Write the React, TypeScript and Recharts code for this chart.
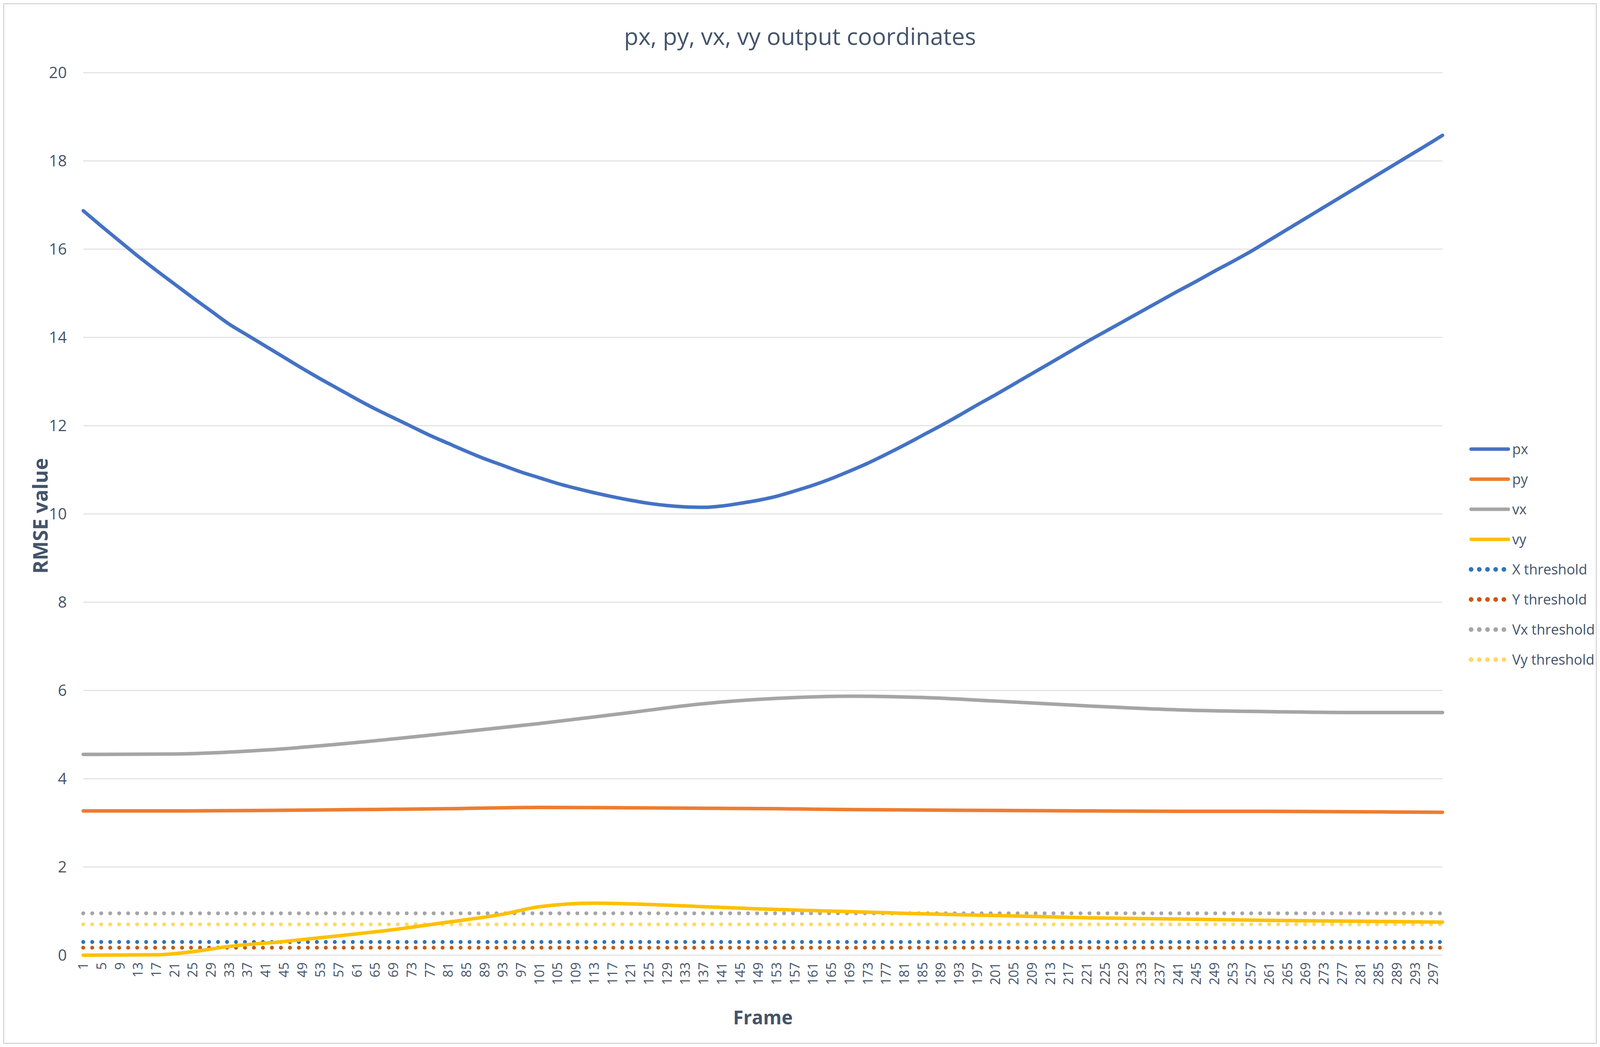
import React from "react";
import { LineChart, Line, XAxis, YAxis, CartesianGrid, Label } from "recharts";

const TEXT = "#44546a";
const FONT = "'Open Sans', sans-serif";

// px sampled every 4 frames (plus the last frame)
const pxFrames = [
  1, 5, 9, 13, 17, 21, 25, 29, 33, 37, 41, 45, 49, 53, 57, 61, 65, 69, 73, 77, 81, 85, 89, 93, 97, 101, 105, 109, 113,
  117, 121, 125, 129, 133, 137, 141, 145, 149, 153, 157, 161, 165, 169, 173, 177, 181, 185, 189, 193, 197, 201, 205,
  209, 213, 217, 221, 225, 229, 233, 237, 241, 245, 249, 253, 257, 261, 265, 269, 273, 277, 281, 285, 289, 293, 297,
  299,
];
const pxValues = [
  16.87, 16.52, 16.18, 15.84, 15.52, 15.21, 14.9, 14.6, 14.3, 14.05, 13.8, 13.55, 13.3, 13.06, 12.83, 12.6, 12.38,
  12.18, 11.98, 11.78, 11.6, 11.42, 11.25, 11.1, 10.95, 10.82, 10.69, 10.58, 10.48, 10.39, 10.31, 10.24, 10.19, 10.16,
  10.15, 10.18, 10.24, 10.31, 10.4, 10.52, 10.65, 10.8, 10.97, 11.15, 11.35, 11.56, 11.78, 12.0, 12.23, 12.47, 12.7,
  12.94, 13.18, 13.42, 13.66, 13.9, 14.13, 14.36, 14.59, 14.82, 15.05, 15.27, 15.5, 15.72, 15.95, 16.2, 16.45, 16.7,
  16.95, 17.2, 17.45, 17.7, 17.95, 18.2, 18.45, 18.58,
];

const curveFrames = [1, 21, 41, 61, 81, 101, 121, 137, 153, 169, 185, 201, 221, 241, 261, 281, 299];
const vxValues = [4.55, 4.56, 4.65, 4.82, 5.03, 5.25, 5.5, 5.7, 5.82, 5.87, 5.84, 5.76, 5.65, 5.56, 5.52, 5.5, 5.5];
const pyValues = [3.27, 3.27, 3.28, 3.3, 3.32, 3.35, 3.34, 3.33, 3.32, 3.3, 3.29, 3.28, 3.27, 3.26, 3.26, 3.25, 3.24];

const vyFrames = [1, 17, 25, 33, 45, 57, 69, 81, 93, 101, 113, 125, 137, 149, 165, 181, 201, 221, 241, 261, 281, 299];
const vyValues = [
  0.0, 0.01, 0.08, 0.2, 0.31, 0.44, 0.58, 0.75, 0.93, 1.1, 1.18, 1.15, 1.1, 1.05, 1.0, 0.95, 0.9, 0.85, 0.82, 0.79,
  0.77, 0.75,
];

const thresholdNames = ["X threshold", "Y threshold", "Vx threshold", "Vy threshold"];
const thresholdValues = [0.3, 0.17, 0.95, 0.7];
const thresholdColors = ["#2e75b6", "#c55a11", "#a5a5a5", "#ffd966"];

const yTicks = [0, 2, 4, 6, 8, 10, 12, 14, 16, 18, 20];
const xTicks = Array.from({ length: 75 }, (_, i) => 1 + i * 4);

const toPoints = (frames: number[], values: number[]) => frames.map((f, i) => ({ frame: f, v: values[i] }));

const series = [
  { name: "px", color: "#4472c4", data: toPoints(pxFrames, pxValues) },
  { name: "py", color: "#ed7d31", data: toPoints(curveFrames, pyValues) },
  { name: "vx", color: "#a5a5a5", data: toPoints(curveFrames, vxValues) },
  { name: "vy", color: "#ffc000", data: toPoints(vyFrames, vyValues) },
];

const thresholds = thresholdNames.map((name, i) => ({
  name,
  color: thresholdColors[i],
  data: [
    { frame: 1, v: thresholdValues[i] },
    { frame: 299, v: thresholdValues[i] },
  ],
}));

const XTick = (props: any) => {
  const { x, y, payload } = props;
  return (
    <text
      x={x}
      y={y}
      transform={`rotate(-90 ${x} ${y})`}
      dy={12}
      dx={-10}
      textAnchor="end"
      fill={TEXT}
      fontSize={34}
      fontFamily={FONT}
    >
      {payload.value}
    </text>
  );
};

const App = () => {
  const vw = typeof window !== "undefined" && window.innerWidth ? window.innerWidth : 4780;
  const W = Math.max(1000, vw - 16);
  const H = 2665;
  const sx = W / 4764;
  const legendItems = [...series.map((s) => ({ ...s, dotted: false })), ...thresholds.map((t) => ({ ...t, dotted: true }))];
  return (
    <div style={{ position: "relative", width: W, height: H, border: "3px solid #d9d9d9", boxSizing: "border-box", fontFamily: FONT }}>
      <div style={{ position: "absolute", top: 40, width: "100%", textAlign: "center", fontSize: 60, color: TEXT }}>
        px, py, vx, vy output coordinates
      </div>
      <div
        style={{
          position: "absolute",
          left: 105 * sx,
          top: 1310,
          transform: "translate(-50%, -50%) rotate(-90deg)",
          fontSize: 52,
          fontWeight: 700,
          color: TEXT,
          whiteSpace: "nowrap",
        }}
      >
        RMSE value
      </div>
      <LineChart width={W} height={H} margin={{ top: 175, right: 465 * sx, bottom: 45, left: 236 * sx - 130 }}>
        <CartesianGrid vertical={false} stroke="#e3e3e3" strokeWidth={3} />
        <XAxis
          dataKey="frame"
          type="number"
          domain={[1, 299]}
          ticks={xTicks}
          interval={0}
          tick={<XTick />}
          tickLine={false}
          axisLine={false}
          height={185}
          allowDuplicatedCategory={false}
        >
          <Label value="Frame" position="insideBottom" offset={8} fill={TEXT} fontSize={48} fontWeight={700} fontFamily={FONT} />
        </XAxis>
        <YAxis
          domain={[0, 20]}
          ticks={yTicks}
          width={130}
          tickLine={false}
          axisLine={false}
          tickMargin={36}
          tick={{ fill: TEXT, fontSize: 40, fontFamily: FONT }}
        />
        {thresholds.map((t) => (
          <Line
            key={t.name}
            data={t.data}
            dataKey="v"
            stroke={t.color}
            strokeWidth={10}
            strokeDasharray="0 23"
            strokeLinecap="round"
            dot={false}
            isAnimationActive={false}
          />
        ))}
        {series.map((s) => (
          <Line
            key={s.name}
            data={s.data}
            dataKey="v"
            type="monotone"
            stroke={s.color}
            strokeWidth={9}
            strokeLinecap="round"
            dot={false}
            isAnimationActive={false}
          />
        ))}
      </LineChart>
      <div style={{ position: "absolute", left: 4375 * sx, top: 1100 }}>
        {legendItems.map((it) => (
          <div key={it.name} style={{ display: "flex", alignItems: "center", height: 77 }}>
            <svg width={130 * sx} height={20}>
              <line
                x1={8}
                y1={10}
                x2={130 * sx - 8}
                y2={10}
                stroke={it.color}
                strokeWidth={it.dotted ? 12 : 9}
                strokeLinecap="round"
                strokeDasharray={it.dotted ? "0 21" : undefined}
              />
            </svg>
            <span style={{ fontSize: 36, color: TEXT, marginLeft: 2, whiteSpace: "nowrap" }}>{it.name}</span>
          </div>
        ))}
      </div>
    </div>
  );
};

export default App;
